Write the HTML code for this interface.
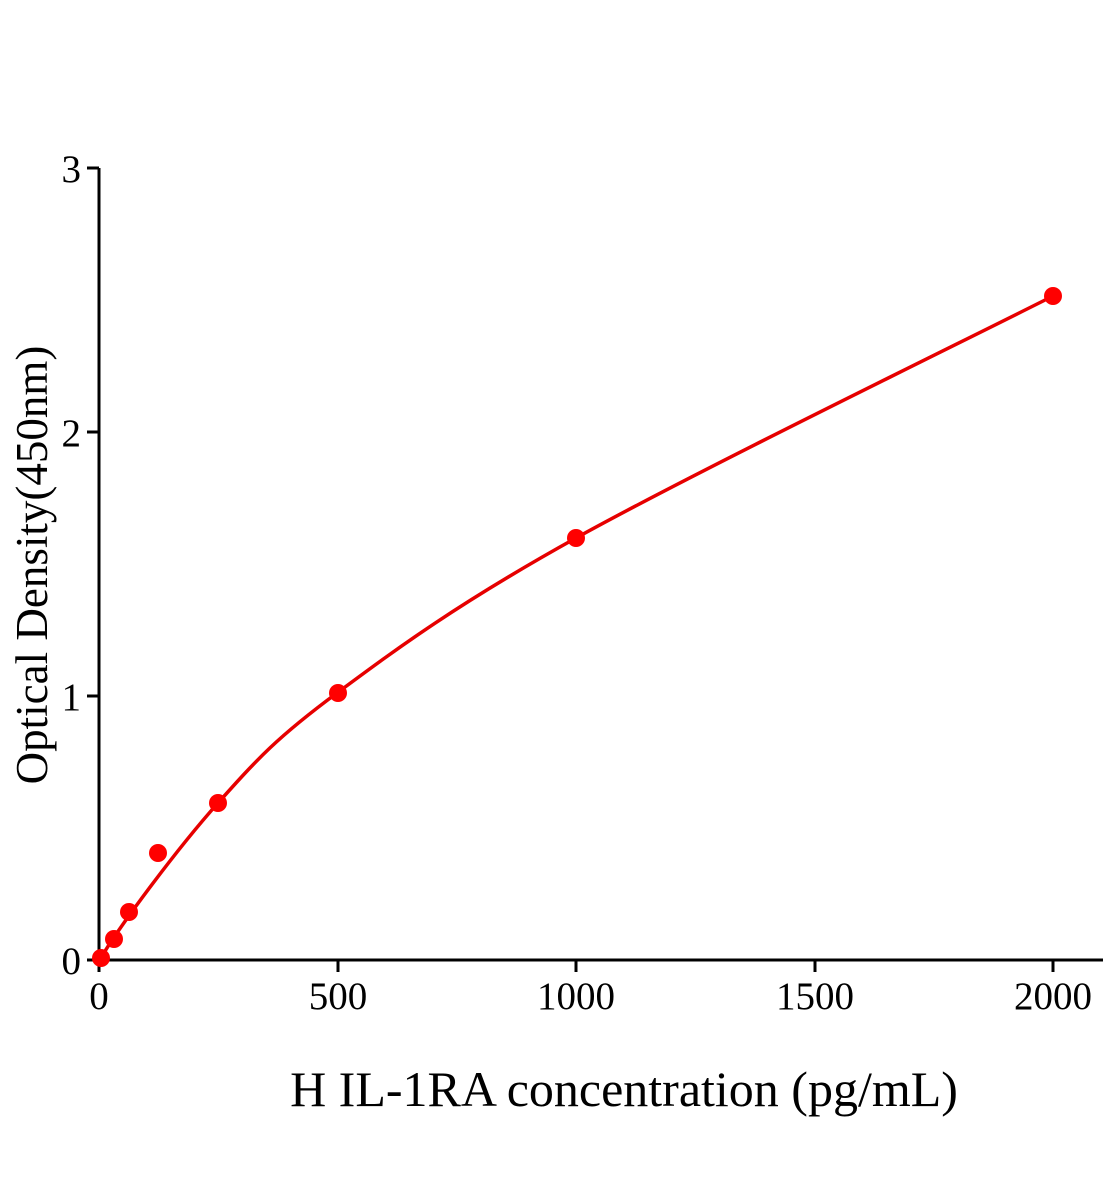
<!DOCTYPE html>
<html><head><meta charset="utf-8"><style>
html,body{margin:0;padding:0;background:#fff;}
svg{display:block;}
text{font-family:"Liberation Serif",serif;fill:#000;}
</style></head><body>
<svg width="1104" height="1200" viewBox="0 0 1104 1200" xmlns="http://www.w3.org/2000/svg">
<g stroke="#000" stroke-width="3" fill="none">
<line x1="99" y1="168" x2="99" y2="961"/>
<line x1="98" y1="960" x2="1103" y2="960"/>
<line x1="87" y1="168" x2="99" y2="168"/>
<line x1="87" y1="432" x2="99" y2="432"/>
<line x1="87" y1="696" x2="99" y2="696"/>
<line x1="87" y1="960" x2="99" y2="960"/>
<line x1="99" y1="960" x2="99" y2="972"/>
<line x1="338" y1="960" x2="338" y2="972"/>
<line x1="576" y1="960" x2="576" y2="972"/>
<line x1="815" y1="960" x2="815" y2="972"/>
<line x1="1053" y1="960" x2="1053" y2="972"/>
</g>
<g font-size="39" text-anchor="end">
<text x="81" y="182">3</text>
<text x="81" y="446">2</text>
<text x="81" y="710">1</text>
<text x="81" y="974">0</text>
</g>
<g font-size="39" text-anchor="middle">
<text x="99" y="1009">0</text>
<text x="338" y="1009">500</text>
<text x="576" y="1009">1000</text>
<text x="815" y="1009">1500</text>
<text x="1053" y="1009">2000</text>
</g>
<text x="624" y="1106" font-size="50" text-anchor="middle">H IL-1RA concentration (pg/mL)</text>
<text transform="translate(47,565) rotate(-90)" font-size="45" text-anchor="middle">Optical Density(450nm)</text>
<path d="M99,961 C120,925 178.3,847.5 218,803 C257.7,758.5 277.3,737.2 337,693 C396.7,648.8 456.7,604.2 576,538 C695.3,471.8 973.5,336.3 1053,296" stroke="#e60000" stroke-width="3.5" fill="none"/>
<g fill="#f00">
<circle cx="101" cy="958" r="9"/>
<circle cx="114" cy="939" r="9"/>
<circle cx="129" cy="912" r="9"/>
<circle cx="158" cy="853" r="9"/>
<circle cx="218" cy="803" r="9"/>
<circle cx="338" cy="693" r="9"/>
<circle cx="576" cy="538" r="9"/>
<circle cx="1053" cy="296" r="9"/>
</g>
</svg>
</body></html>
